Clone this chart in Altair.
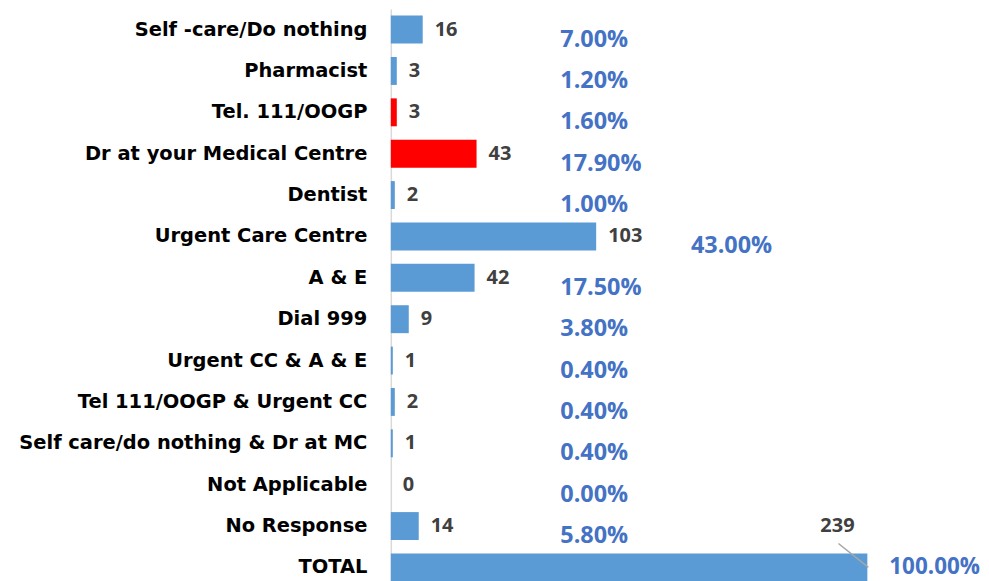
import altair as alt
import pandas as pd

categories = ["Self -care/Do nothing", "Pharmacist", "Tel. 111/OOGP",
              "Dr at your Medical Centre", "Dentist", "Urgent Care Centre",
              "A & E", "Dial 999", "Urgent CC & A & E",
              "Tel 111/OOGP & Urgent CC", "Self care/do nothing & Dr at MC",
              "Not Applicable", "No Response", "TOTAL"]
counts = [16, 3, 3, 43, 2, 103, 42, 9, 1, 2, 1, 0, 14, 239]
percents = [7.0, 1.2, 1.6, 17.9, 1.0, 43.0, 17.5, 3.8, 0.4, 0.4, 0.4, 0.0, 5.8, 100.0]
highlighted = ["Tel. 111/OOGP", "Dr at your Medical Centre"]

df = pd.DataFrame({"cat": categories, "count": counts, "pct": percents})
df["group"] = ["red" if c in highlighted else "blue" for c in categories]
df["is_total"] = df["cat"] == "TOTAL"

FONT = "Open Sans"
CAT_FONT = "DejaVu Sans"

y = alt.Y("cat:N", sort=categories, title=None,
          scale=alt.Scale(paddingInner=0.325, paddingOuter=0.1625),
          axis=alt.Axis(labelFont=CAT_FONT, labelFontSize=19.5, labelFontWeight="bold",
                        labelColor="#000000", labelPadding=24, ticks=False, tickSize=0,
                        domain=True, domainColor="#D9D9D9", domainWidth=1.5,
                        labelLimit=400))
xs = alt.Scale(domain=[0, 270], nice=False)
x = alt.X("count:Q", scale=xs, axis=None)

base = alt.Chart(df)

bars = base.mark_bar().encode(
    x=x, y=y,
    color=alt.Color("group:N", scale=alt.Scale(domain=["blue", "red"],
                                               range=["#5B9BD5", "#FF0000"]), legend=None),
)

vals = base.transform_filter("!datum.is_total").mark_text(
    align="left", baseline="middle", dx=12, font=FONT, fontSize=20,
    fontWeight="bold", color="#404040"
).encode(x=x, y=y, text=alt.Text("count:Q"))

total_val = base.transform_filter("datum.is_total").mark_text(
    align="center", baseline="middle", dx=-30, dy=-42, font=FONT, fontSize=20,
    fontWeight="bold", color="#404040"
).encode(x=x, y=y, text=alt.Text("count:Q"))

leader = base.transform_filter("datum.is_total").mark_rule(
    color="#A6A6A6", strokeWidth=1.5, xOffset=-29, x2Offset=1, yOffset=-24, y2Offset=0
).encode(x=x, x2="count:Q", y=y, y2="cat:N")

pscale = alt.Scale(domain=[0, 17.9, 43, 100], range=[170, 170, 301, 500])
pct_text = "format(datum.pct, '.2f') + '%'"

pcts = base.transform_filter("!datum.is_total").transform_calculate(
    label=pct_text
).mark_text(
    align="left", baseline="middle", dy=10, font=FONT, fontSize=23.5,
    fontWeight="bold", color="#4472C4"
).encode(x=alt.X("pct:Q", scale=pscale, axis=None), y=y, text="label:N")

pct_total = base.transform_filter("datum.is_total").transform_calculate(
    label=pct_text
).mark_text(
    align="left", baseline="middle", dy=0, font=FONT, fontSize=22.5,
    fontWeight="bold", color="#4472C4"
).encode(x=alt.X("pct:Q", scale=pscale, axis=None), y=y, text="label:N")

chart = alt.layer(bars, vals, total_val, leader, pcts, pct_total).resolve_scale(
    x="independent"
).properties(
    width=540, height=581,
    background="white",
    autosize=alt.AutoSizeParams(type="none"),
    padding={"left": 384, "top": 0, "right": 52, "bottom": 0},
).configure_view(stroke="transparent", strokeWidth=0).configure_axisX(
    domain=False, grid=False
)

chart.save("out.html", embed_options={"renderer": "svg", "actions": False})
